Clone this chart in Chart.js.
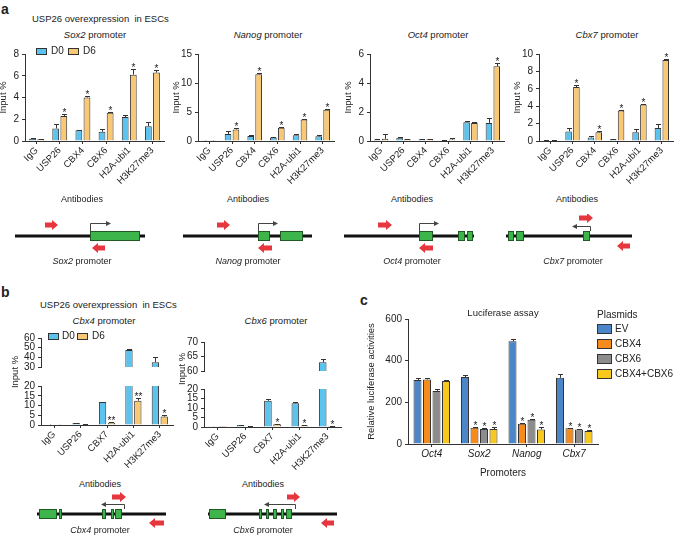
<!DOCTYPE html>
<html>
<head>
<meta charset="utf-8">
<script src="https://cdn.jsdelivr.net/npm/chart.js@4.4.1/dist/chart.umd.min.js"></script>
<style>
  body { margin: 0; background: #fff; font-family: 'Liberation Sans', Arial, sans-serif; }
  #fig { position: relative; width: 675px; height: 535px; overflow: hidden; background: #fff; }
  #fig canvas { position: absolute; }
  .t { position: absolute; white-space: nowrap; color: #222; line-height: 1; }
  .sw { position: absolute; border: 1px solid #333; box-sizing: border-box; }
</style>
</head>
<body>
<div id="fig"></div>
<script>
// ---- panel a: ChIP at pluripotency promoters ----
const abLabels = ['IgG', 'USP26', 'CBX4', 'CBX6', 'H2A-ubi1', 'H3K27me3']

const sox2Ticks = [0, 2, 4, 6, 8]
const sox2D0 = [0.2, 1.15, 1.0, 0.85, 2.2, 1.35]
const sox2D0Err = [0.04, 0.45, 0.05, 0.25, 0.15, 0.4]
const sox2D6 = [0.15, 2.3, 4.0, 2.6, 6.1, 6.3]
const sox2D6Err = [0.03, 0.15, 0.15, 0.05, 0.5, 0.2]
const sox2Sig = ['', '*', '*', '*', '*', '*']

const nanogTicks = [0, 5, 10, 15]
const nanogD0 = [0.05, 1.2, 0.85, 0.6, 1.0, 0.8]
const nanogD0Err = [0.02, 0.5, 0.25, 0.1, 0.2, 0.25]
const nanogD6 = [0.05, 2.0, 11.5, 2.3, 3.7, 5.4]
const nanogD6Err = [0.02, 0.3, 0.3, 0.1, 0.1, 0.1]
const nanogSig = ['', '*', '*', '*', '*', '*']

const oct4Ticks = [0, 2, 4, 6]
const oct4D0 = [0.1, 0.22, 0.12, 0.05, 1.3, 1.25]
const oct4D0Err = [0.02, 0.03, 0.02, 0.02, 0.05, 0.35]
const oct4D6 = [0.15, 0.12, 0.12, 0.1, 1.25, 5.15]
const oct4D6Err = [0.35, 0.02, 0.03, 0.08, 0.03, 0.25]
const oct4Sig = ['', '', '', '', '', '*']

const cbx7Ticks = [0, 2, 4, 6, 8, 10]
const cbx7D0 = [0.1, 1.1, 0.4, 0.2, 1.0, 1.5]
const cbx7D0Err = [0.03, 0.45, 0.15, 0.03, 0.35, 0.45]
const cbx7D6 = [0.05, 6.2, 1.0, 3.5, 4.2, 9.3]
const cbx7D6Err = [0.02, 0.2, 0.1, 0.1, 0.1, 0.15]
const cbx7Sig = ['', '*', '*', '*', '*', '*']

// ---- panel b: ChIP at Cbx4 / Cbx6 promoters (broken axis) ----
const abLabelsB = ['IgG', 'USP26', 'CBX7', 'H2A-ubi1', 'H3K27me3']

const cbx4TicksHigh = [30, 40, 50, 60]
const cbx4TicksLow = [0, 5, 10, 15, 20]
const cbx4D0 = [0.2, 1.0, 11.8, 47.5, 35]
const cbx4D0Err = [0.05, 0.2, 0.2, 1.5, 5]
const cbx4D6 = [0.1, 0.3, 1.2, 12.5, 4.3]
const cbx4D6Err = [0.02, 0.05, 0.2, 1.2, 0.8]
const cbx4Sig = ['', '', '**', '**', '*']

const cbx6TicksHigh = [60, 65, 70]
const cbx6TicksLow = [0, 5, 10, 15, 20]
const cbx6D0 = [0.1, 1.0, 13.8, 12.5, 63]
const cbx6D0Err = [0.03, 0.3, 0.8, 0.6, 1.2]
const cbx6D6 = [0.05, 0.3, 1.5, 0.8, 0.5]
const cbx6D6Err = [0.02, 0.05, 0.2, 0.1, 0.1]
const cbx6Sig = ['', '', '*', '*', '*']

// ---- panel c: luciferase assay ----
const promoters = ['Oct4', 'Sox2', 'Nanog', 'Cbx7']
const plasmids = ['EV', 'CBX4', 'CBX6', 'CBX4+CBX6']
const lucTicks = [0, 200, 400, 600]
const lucEV = [307, 322, 493, 318]
const lucEVErr = [12, 8, 12, 16]
const lucCBX4 = [310, 78, 97, 76]
const lucCBX4Err = [5, 3, 3, 3]
const lucCBX6 = [255, 72, 117, 70]
const lucCBX6Err = [8, 3, 4, 3]
const lucBoth = [302, 72, 70, 62]
const lucBothErr = [4, 10, 10, 4]
const lucSig = ['', '*', '*', '*']

// ---- promoter schematics (units along the drawn locus) ----
const sox2Exons = [[75, 125]]
const nanogExons = [[75, 87], [97, 120]]
const oct4Exons = [[75, 89], [114, 121], [123, 129]]
const cbx7Exons = [[2, 8], [10, 18], [77, 84]]
const cbx4Exons = [[2, 20], [22, 25], [65, 69], [74, 77], [78, 85]]
const cbx6Exons = [[1, 18], [51, 54], [58, 61], [65, 69], [73, 76], [78, 84]]

const D0_COLOR = '#5cc3ee'
const D6_COLOR = '#f8c874'
const LUC_COLORS = ['#4a86c8', '#f48b1c', '#8c8c8c', '#f9c81e']
const FONT = "'Liberation Sans', Arial, sans-serif"

Chart.defaults.font.family = FONT
Chart.defaults.color = '#222'

const fig = document.getElementById('fig')

function addCanvas(left, top, w, h) {
  const c = document.createElement('canvas')
  c.width = w
  c.height = h
  c.style.left = left + 'px'
  c.style.top = top + 'px'
  c.style.width = w + 'px'
  c.style.height = h + 'px'
  fig.appendChild(c)
  return c
}

function text(html, x, y, opt = {}) {
  const d = document.createElement('div')
  d.className = 't'
  d.innerHTML = html
  d.style.left = x + 'px'
  d.style.top = y + 'px'
  d.style.fontSize = (opt.size || 9.5) + 'px'
  let tf = 'translateY(-50%)'
  if (opt.center) tf = 'translate(-50%,-50%)'
  if (opt.rotate) tf = 'translate(-50%,-50%) rotate(-90deg)'
  d.style.transform = tf
  if (opt.bold) d.style.fontWeight = 'bold'
  fig.appendChild(d)
}

function swatch(x, y, w, h, color) {
  const d = document.createElement('div')
  d.className = 'sw'
  d.style.left = x + 'px'
  d.style.top = y + 'px'
  d.style.width = w + 'px'
  d.style.height = h + 'px'
  d.style.background = color
  fig.appendChild(d)
}

// clip bars to the plot box, then draw error bars (upward only) and stars
const errStars = {
  id: 'errStars',
  beforeDatasetsDraw(chart) {
    const a = chart.chartArea
    chart.ctx.save()
    chart.ctx.beginPath()
    chart.ctx.rect(a.left, a.top, a.right - a.left, a.bottom - a.top)
    chart.ctx.clip()
  },
  afterDatasetsDraw(chart) {
    const { ctx } = chart
    ctx.restore()
    const ys = chart.scales.y
    ctx.save()
    chart.data.datasets.forEach((ds, i) => {
      chart.getDatasetMeta(i).data.forEach((bar, j) => {
        const v = ds.data[j]
        if (v < ys.min || v > ys.max) return
        const e = ds.err ? ds.err[j] : 0
        const yTop = Math.round(ys.getPixelForValue(Math.min(v + e, ys.max))) + 0.5
        const x = Math.round(bar.x) + 0.5
        ctx.strokeStyle = '#333'
        ctx.lineWidth = 1
        ctx.beginPath()
        ctx.moveTo(x, bar.y)
        ctx.lineTo(x, yTop)
        ctx.moveTo(x - 2.5, yTop)
        ctx.lineTo(x + 2.5, yTop)
        ctx.stroke()
        const s = ds.sig && ds.sig[j]
        if (s) {
          ctx.fillStyle = '#222'
          ctx.font = '10px ' + FONT
          ctx.textAlign = 'center'
          ctx.textBaseline = 'alphabetic'
          ctx.fillText(s, x, yTop + 1)
        }
      })
    })
    ctx.restore()
  }
}

function barChart(canvas, labels, sets, o) {
  return new Chart(canvas, {
    type: 'bar',
    data: {
      labels,
      datasets: sets.map(s => ({
        data: s.data,
        err: s.err,
        sig: s.sig,
        backgroundColor: s.color,
        borderColor: '#333',
        borderWidth: 1,
        borderSkipped: 'bottom',
        categoryPercentage: o.cat,
        barPercentage: o.bar,
      }))
    },
    options: {
      responsive: false,
      animation: false,
      events: [],
      layout: { padding: o.pad },
      plugins: { legend: { display: false }, tooltip: { enabled: false } },
      scales: {
        x: {
          display: o.showX !== false,
          grid: { drawOnChartArea: false, offset: false, tickLength: 3, color: '#333' },
          border: { color: '#333' },
          ticks: {
            color: '#222',
            autoSkip: false,
            padding: 1,
            minRotation: o.rot,
            maxRotation: o.rot,
            font: { size: o.xFont || 9.5, style: o.italic ? 'italic' : 'normal' },
          },
          title: o.xTitle
            ? { display: true, text: o.xTitle, font: { size: 10 }, padding: { top: 4, bottom: 4 } }
            : { display: false },
          afterFit(s) { s.height = o.xH },
        },
        y: {
          min: o.ticks[0],
          max: o.ticks[o.ticks.length - 1],
          grid: { drawOnChartArea: false, tickLength: 3, color: '#333' },
          border: { color: '#333' },
          ticks: { color: '#222', padding: 3, autoSkip: false, font: { size: 10 } },
          afterBuildTicks(s) { s.ticks = o.ticks.map(value => ({ value })) },
          title: o.yTitle
            ? { display: true, text: o.yTitle, font: { size: 9.5 }, padding: 0 }
            : { display: false },
          afterFit(s) { s.width = o.yW },
        }
      }
    },
    plugins: [errStars]
  })
}

// panel a chart: axis pixel box -> canvas
function chartA(axL, axR, ticks, d0, d0e, d6, d6e, sig) {
  const yW = 27, padTop = 6, top = 51, bottom = 141, xH = 44, padR = 3
  const c = addCanvas(axL - yW, top - padTop, yW + (axR - axL) + padR, padTop + (bottom - top) + xH)
  barChart(c, abLabels, [
    { data: d0, err: d0e, color: D0_COLOR },
    { data: d6, err: d6e, sig, color: D6_COLOR },
  ], {
    cat: 0.7, bar: 0.84, rot: 45, ticks, yW, xH,
    yTitle: 'Input %', pad: { top: padTop, right: padR, left: 0, bottom: 0 }
  })
}

chartA(25, 164, sox2Ticks, sox2D0, sox2D0Err, sox2D6, sox2D6Err, sox2Sig)
chartA(198, 334, nanogTicks, nanogD0, nanogD0Err, nanogD6, nanogD6Err, nanogSig)
chartA(370, 504, oct4Ticks, oct4D0, oct4D0Err, oct4D6, oct4D6Err, oct4Sig)
chartA(539, 673, cbx7Ticks, cbx7D0, cbx7D0Err, cbx7D6, cbx7D6Err, cbx7Sig)

// panel b chart: two stacked segments sharing the categories
function chartB(axL, axR, upper, lower, d0, d0e, d6, d6e, sig) {
  const yW = 25, padTop = 6, padR = 3, xH = 46
  const sets = [
    { data: d0, err: d0e, color: D0_COLOR },
    { data: d6, err: d6e, sig, color: D6_COLOR },
  ]
  const w = yW + (axR - axL) + padR
  const cu = addCanvas(axL - yW, upper.top - padTop, w, padTop + (upper.bottom - upper.top) + 1)
  barChart(cu, abLabelsB, sets, {
    cat: 0.67, bar: 0.83, rot: 45, ticks: upper.ticks,
    yW, xH: 0, showX: false, pad: { top: padTop, right: padR, left: 0, bottom: 1 }
  })
  const cl = addCanvas(axL - yW, lower.top - padTop, w, padTop + (lower.bottom - lower.top) + xH)
  barChart(cl, abLabelsB, sets, {
    cat: 0.67, bar: 0.83, rot: 45, ticks: lower.ticks,
    yW, xH, pad: { top: padTop, right: padR, left: 0, bottom: 0 }
  })
}

chartB(41, 173,
  { top: 335, bottom: 375, ticks: cbx4TicksHigh },
  { top: 383, bottom: 425, ticks: cbx4TicksLow },
  cbx4D0, cbx4D0Err, cbx4D6, cbx4D6Err, cbx4Sig)
chartB(204, 341,
  { top: 339, bottom: 379, ticks: cbx6TicksHigh },
  { top: 386, bottom: 427, ticks: cbx6TicksLow },
  cbx6D0, cbx6D0Err, cbx6D6, cbx6D6Err, cbx6Sig)

// panel c
{
  const yW = 42, padTop = 8, padR = 3, xH = 39
  const axL = 408, axR = 598, top = 318, bottom = 444
  const c = addCanvas(axL - yW, top - padTop, yW + (axR - axL) + padR, padTop + (bottom - top) + xH)
  const vals = [lucEV, lucCBX4, lucCBX6, lucBoth]
  const errs = [lucEVErr, lucCBX4Err, lucCBX6Err, lucBothErr]
  barChart(c, promoters, vals.map((v, i) => ({
    data: v, err: errs[i], sig: i ? lucSig : null, color: LUC_COLORS[i]
  })), {
    cat: 0.8, bar: 0.84, rot: 0, ticks: lucTicks, yW, xH,
    italic: true, xFont: 10, xTitle: 'Promoters', yTitle: 'Relative luciferase activities',
    pad: { top: padTop, right: padR, left: 0, bottom: 0 }
  })
}

// promoter schematic drawn on hidden 1:1 linear scales
function gene(lineLeft, lineY, len, exons, tss, primers) {
  const c = addCanvas(lineLeft - 10, lineY - 22, len + 20, 44)
  new Chart(c, {
    type: 'scatter',
    data: { datasets: [{ data: [] }] },
    options: {
      responsive: false,
      animation: false,
      events: [],
      layout: { padding: 0 },
      plugins: { legend: { display: false }, tooltip: { enabled: false } },
      scales: {
        x: { display: false, min: -10, max: len + 10 },
        y: { display: false, min: -22, max: 22 },
      }
    },
    plugins: [{
      id: 'gene',
      afterDraw(chart) {
        const { ctx } = chart
        const X = v => chart.scales.x.getPixelForValue(v)
        const Y = v => chart.scales.y.getPixelForValue(v)
        ctx.save()
        // locus line
        ctx.strokeStyle = '#111'
        ctx.lineWidth = 3
        ctx.beginPath()
        ctx.moveTo(X(0), Y(0))
        ctx.lineTo(X(len), Y(0))
        ctx.stroke()
        // exons
        ctx.lineWidth = 1
        exons.forEach(([a, b]) => {
          ctx.fillStyle = '#3db54a'
          ctx.strokeStyle = '#1f5a24'
          ctx.fillRect(X(a), Y(5), X(b) - X(a), Y(-5) - Y(5))
          ctx.strokeRect(X(a) + 0.5, Y(5) + 0.5, X(b) - X(a) - 1, Y(-5) - Y(5) - 1)
        })
        // transcription start arrow
        const [tx, dir, tl, th] = tss
        ctx.strokeStyle = '#444'
        ctx.lineWidth = 1
        ctx.beginPath()
        ctx.moveTo(X(tx) + 0.5, Y(5))
        ctx.lineTo(X(tx) + 0.5, Y(th) + 0.5)
        ctx.lineTo(X(tx + dir * tl), Y(th) + 0.5)
        ctx.stroke()
        ctx.fillStyle = '#444'
        ctx.beginPath()
        const ex = X(tx + dir * tl), ey = Y(th) + 0.5
        ctx.moveTo(ex + dir * 3, ey)
        ctx.lineTo(ex - dir * 2, ey - 2.5)
        ctx.lineTo(ex - dir * 2, ey + 2.5)
        ctx.closePath()
        ctx.fill()
        // primers (red block arrows)
        ctx.fillStyle = '#e5373d'
        primers.forEach(([a, b, y, d]) => {
          const l = X(a), r = X(b), m = Y(y), sh = 2.5, hh = 5, hl = 6
          ctx.beginPath()
          if (d > 0) {
            ctx.moveTo(l, m - sh); ctx.lineTo(r - hl, m - sh); ctx.lineTo(r - hl, m - hh)
            ctx.lineTo(r, m); ctx.lineTo(r - hl, m + hh); ctx.lineTo(r - hl, m + sh); ctx.lineTo(l, m + sh)
          } else {
            ctx.moveTo(r, m - sh); ctx.lineTo(l + hl, m - sh); ctx.lineTo(l + hl, m - hh)
            ctx.lineTo(l, m); ctx.lineTo(l + hl, m + hh); ctx.lineTo(l + hl, m + sh); ctx.lineTo(r, m + sh)
          }
          ctx.closePath()
          ctx.fill()
        })
        ctx.restore()
      }
    }]
  })
}

gene(15, 236, 130, sox2Exons, [75, 1, 18, 13], [[30, 43, 11, 1], [77, 90, -12, -1]])
gene(183, 236, 129, nanogExons, [75, 1, 17, 13], [[34, 47, 11, 1], [75, 89, -12, -1]])
gene(344, 236, 130, oct4Exons, [75, 1, 17, 13], [[34, 48, 11, 1], [75, 89, -12, -1]])
gene(506, 236, 126, cbx7Exons, [84, -1, 15, 10], [[73, 87, 18, 1], [111, 124, -10, -1]])
gene(37, 514, 129, cbx4Exons, [87, -1, 20, 10], [[75, 89, 17, 1], [112, 127, -9, -1]])
gene(208, 514, 129, cbx6Exons, [87, -1, 28, 10], [[79, 92, 17, 1], [113, 126, -9, -1]])

// ---- text ----
text('a', 1, 9, { size: 14, bold: true })
text('USP26 overexpression&nbsp; in ESCs', 32, 19)
text('<i>Sox2</i> promoter', 95, 35, { center: true })
text('<i>Nanog</i> promoter', 268, 35, { center: true })
text('<i>Oct4</i> promoter', 438, 35, { center: true })
text('<i>Cbx7</i> promoter', 607, 35, { center: true })
swatch(36, 48, 11, 7, D0_COLOR)
text('D0', 51, 51, { size: 10 })
swatch(68, 48, 11, 7, D6_COLOR)
text('D6', 83, 51, { size: 10 })

text('Antibodies', 82, 199, { center: true, size: 9 })
text('Antibodies', 248, 199, { center: true, size: 9 })
text('Antibodies', 412, 199, { center: true, size: 9 })
text('Antibodies', 577, 199, { center: true, size: 9 })
text('<i>Sox2</i> promoter', 82, 261, { center: true, size: 9 })
text('<i>Nanog</i> promoter', 248, 261, { center: true, size: 9 })
text('<i>Oct4</i> promoter', 412, 261, { center: true, size: 9 })
text('<i>Cbx7</i> promoter', 573, 261, { center: true, size: 9 })

text('b', 1, 292, { size: 14, bold: true })
text('USP26 overexpression&nbsp; in ESCs', 40, 305)
text('<i>Cbx4</i> promoter', 104, 321, { center: true })
text('<i>Cbx6</i> promoter', 276, 321, { center: true })
swatch(48, 333, 11, 7, D0_COLOR)
text('D0', 62, 336, { size: 10 })
swatch(77, 333, 11, 7, D6_COLOR)
text('D6', 92, 336, { size: 10 })
text('Input %', 15, 372, { rotate: true })
text('Input %', 182, 369, { rotate: true })
text('Antibodies', 100, 484, { center: true, size: 9 })
text('Antibodies', 263, 484, { center: true, size: 9 })
text('<i>Cbx4</i> promoter', 100, 530, { center: true, size: 9 })
text('<i>Cbx6</i> promoter', 263, 530, { center: true, size: 9 })

text('c', 360, 300, { size: 14, bold: true })
text('Luciferase assay', 503, 313, { center: true })
text('Plasmids', 597, 315, { size: 10 })
plasmids.forEach((p, i) => {
  swatch(597, 324 + i * 15, 15, 10, LUC_COLORS[i])
  text(p, 615, 329 + i * 15, { size: 10 })
})
</script>
</body>
</html>
